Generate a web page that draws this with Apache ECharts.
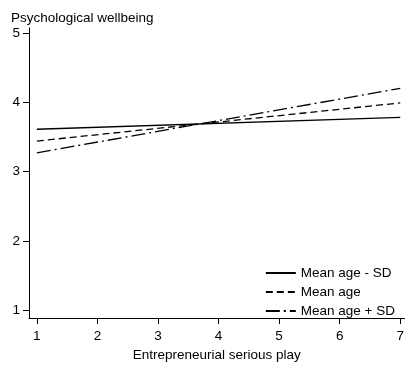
<!DOCTYPE html>
<html>
<head>
<meta charset="utf-8">
<script src="https://cdn.jsdelivr.net/npm/echarts@6/dist/echarts.min.js"></script>
<style>
html,body{margin:0;padding:0;background:#fff;}
#chart{width:407px;height:367px;}
</style>
</head>
<body>
<div id="chart"></div>
<script>
var xEnds = [1, 7];
var lowAge = [3.61, 3.78];
var meanAge = [3.44, 3.99];
var highAge = [3.27, 4.20];
var seriesNames = ['Mean age - SD', 'Mean age', 'Mean age + SD'];
var xTicks = [1, 2, 3, 4, 5, 6, 7];
var yTicks = [1, 2, 3, 4, 5];

var FONT = '"Liberation Sans", Arial, Helvetica, sans-serif';
function pts(vals) { return xEnds.map(function (x, i) { return [x, vals[i]]; }); }

var chart = echarts.init(document.getElementById('chart'));
chart.setOption({
  animation: false,
  backgroundColor: '#fff',
  title: {
    text: 'Psychological wellbeing',
    left: 6, top: 6,
    textStyle: { fontFamily: FONT, fontSize: 13.5, fontWeight: 'normal', color: '#000' }
  },
  grid: { left: 29, right: 0, top: 28, bottom: 42, containLabel: false },
  xAxis: {
    type: 'value', min: 0.87, max: 7.07,
    name: 'Entrepreneurial serious play', nameLocation: 'middle', nameGap: 20,
    nameTextStyle: { fontFamily: FONT, fontSize: 13.5, color: '#000', verticalAlign: 'top' },
    axisLine: { show: true, lineStyle: { color: '#000', width: 1 } },
    axisTick: { show: true, length: 6, customValues: xTicks, lineStyle: { color: '#000' } },
    axisLabel: { customValues: xTicks, margin: 11, fontFamily: FONT, fontSize: 13.5, color: '#000' },
    splitLine: { show: false }
  },
  yAxis: {
    type: 'value', min: 0.887, max: 5.07,
    axisLine: { show: true, lineStyle: { color: '#000', width: 1 } },
    axisTick: { show: true, length: 6, customValues: yTicks, lineStyle: { color: '#000' } },
    axisLabel: { customValues: yTicks, margin: 9, fontFamily: FONT, fontSize: 13.5, color: '#000' },
    splitLine: { show: false }
  },
  legend: {
    orient: 'vertical', right: 7, bottom: 44,
    itemWidth: 30, itemHeight: 14, itemGap: 5,
    itemStyle: { opacity: 0 },
    textStyle: { fontFamily: FONT, fontSize: 13.5, color: '#000' },
    data: seriesNames
  },
  series: [
    { name: seriesNames[0], type: 'line', data: pts(lowAge), symbol: 'none',
      lineStyle: { color: '#000', width: 1.3, type: 'solid' }, itemStyle: { color: '#000' } },
    { name: seriesNames[1], type: 'line', data: pts(meanAge), symbol: 'none',
      lineStyle: { color: '#000', width: 1.3, type: [7, 4] }, itemStyle: { color: '#000' } },
    { name: seriesNames[2], type: 'line', data: pts(highAge), symbol: 'none',
      lineStyle: { color: '#000', width: 1.3, type: [14, 4, 2, 4] }, itemStyle: { color: '#000' } }
  ]
});
</script>
</body>
</html>
